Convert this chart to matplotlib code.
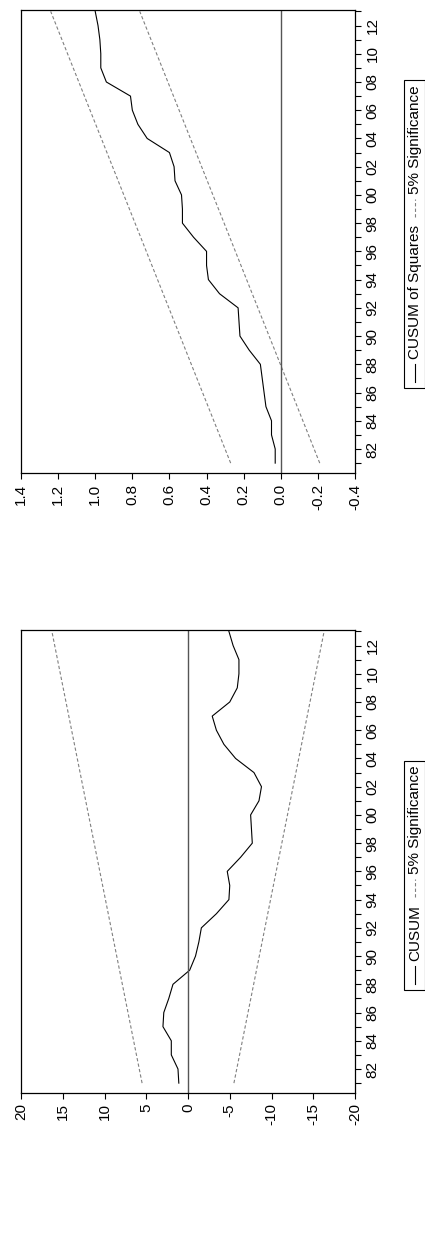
import matplotlib

matplotlib.use("Agg")

import matplotlib.pyplot as plt
from matplotlib.lines import Line2D
from matplotlib.patches import Rectangle
from matplotlib.ticker import FixedLocator, MultipleLocator

plt.rcParams["font.family"] = ["Liberation Sans", "DejaVu Sans"]

years = list(range(1981, 2014))

cusum = [1.1, 1.2, 2.0, 2.0, 3.0, 2.9, 2.3, 1.8, -0.2, -0.9, -1.3, -1.6, -3.4,
         -4.9, -5.0, -4.7, -6.3, -7.7, -7.6, -7.5, -8.5, -8.8, -7.9, -5.7,
         -4.3, -3.4, -2.9, -5.0, -5.9, -6.1, -6.1, -5.4, -4.9]
cusum_upper = [5.5, 16.3]
cusum_lower = [-5.5, -16.3]

cusumsq = [0.03, 0.03, 0.05, 0.05, 0.08, 0.09, 0.10, 0.11, 0.17, 0.22, 0.225,
           0.23, 0.33, 0.39, 0.40, 0.40, 0.47, 0.53, 0.53, 0.535, 0.57, 0.575,
           0.60, 0.72, 0.77, 0.80, 0.81, 0.94, 0.97, 0.97, 0.975, 0.985, 1.0]
sq_upper = [0.27, 1.24]
sq_lower = [-0.21, 0.76]

bound_years = [1981, 2013]
year_ticks = list(range(1982, 2013, 2))

fig = plt.figure(figsize=(4.25, 12.38), dpi=100)
H = 1238


def fy(px):
    return 1 - px / H


def draw_panel(rect, values, upper, lower, xlim, xticks, xfmt, legend_bottom, label):
    axis = fig.add_axes(rect)
    axis.plot(values, years, color="black", linewidth=0.8)
    axis.plot(upper, bound_years, color="#808080", linewidth=0.8, linestyle=(0, (3, 2)))
    axis.plot(lower, bound_years, color="#808080", linewidth=0.8, linestyle=(0, (3, 2)))
    axis.axvline(0, color="#555555", linewidth=1.0)
    axis.set_xlim(*xlim)
    axis.set_ylim(1980.3, 2013.1)
    axis.xaxis.set_major_locator(FixedLocator(xticks))
    axis.set_xticklabels([xfmt(v) for v in xticks], rotation=90)
    axis.yaxis.tick_right()
    axis.yaxis.set_major_locator(FixedLocator(year_ticks))
    axis.yaxis.set_minor_locator(MultipleLocator(1))
    axis.set_yticklabels([f"{y % 100:02d}" for y in year_ticks], rotation=90, va="center")
    axis.tick_params(labelsize=11, direction="out", length=4, width=0.8)
    axis.tick_params(which="minor", direction="out", length=4, width=0.8)
    for spine in axis.spines.values():
        spine.set_linewidth(0.9)

    # legend drawn by hand, reads bottom to top
    xc = 415 / 425
    yb = legend_bottom - 6
    fig.lines.append(Line2D([xc, xc], [fy(yb), fy(yb - 18)],
                            transform=fig.transFigure, color="black", linewidth=0.8))
    t = fig.text(xc, fy(yb - 23), label, rotation=90, ha="center", va="bottom", fontsize=11)
    fig.canvas.draw()
    ytop = H - t.get_window_extent().y1
    fig.lines.append(Line2D([xc, xc], [fy(ytop - 8), fy(ytop - 26)],
                            transform=fig.transFigure, color="#808080", linewidth=0.8,
                            linestyle=(0, (3, 2))))
    t2 = fig.text(xc, fy(ytop - 31), "5% Significance", rotation=90,
                  ha="center", va="bottom", fontsize=11)
    fig.canvas.draw()
    box_top = H - t2.get_window_extent().y1 - 5
    fig.patches.append(Rectangle((404 / 425, fy(legend_bottom)), 20.5 / 425,
                                 (legend_bottom - box_top) / H,
                                 transform=fig.transFigure, fill=False,
                                 edgecolor="black", linewidth=0.8))


draw_panel([21 / 425, fy(473), 334 / 425, 463 / H], cusumsq, sq_upper, sq_lower,
           (1.4, -0.4), [1.4, 1.2, 1.0, 0.8, 0.6, 0.4, 0.2, 0.0, -0.2, -0.4],
           lambda v: f"{v:.1f}", 388, "CUSUM of Squares")
draw_panel([21 / 425, fy(1093), 334 / 425, 463 / H], cusum, cusum_upper, cusum_lower,
           (20, -20), [20, 15, 10, 5, 0, -5, -10, -15, -20],
           lambda v: f"{v:d}", 990, "CUSUM")

fig.savefig("out.png", dpi=100)
